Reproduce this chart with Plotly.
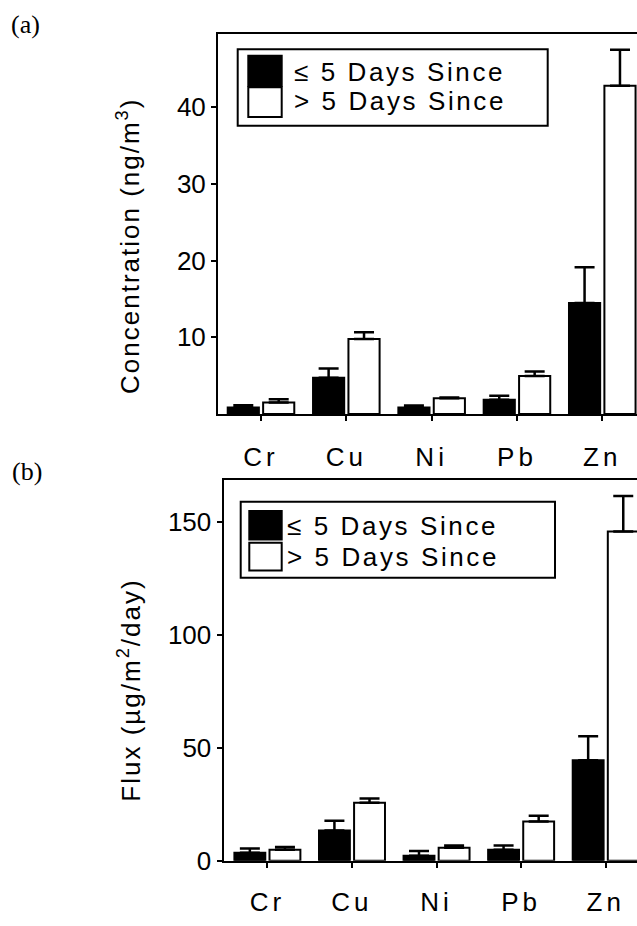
import plotly.graph_objects as go

# ---------------- data ----------------
categories = ["Cr", "Cu", "Ni", "Pb", "Zn"]
series_names = ["≤ 5 Days Since", "> 5 Days Since"]

# (a) concentration, ng/m3
conc_recent = [0.84, 4.71, 0.84, 1.83, 14.48]
conc_recent_err = [0.30, 1.20, 0.26, 0.52, 4.64]
conc_older = [1.48, 9.78, 2.04, 4.93, 42.81]
conc_older_err = [0.43, 0.87, 0.10, 0.60, 4.70]

# (b) flux, ug/m2/day
flux_recent = [3.6, 13.4, 2.3, 4.9, 44.5]
flux_recent_err = [1.8, 4.3, 2.0, 1.9, 10.6]
flux_older = [4.9, 25.7, 5.8, 17.4, 145.7]
flux_older_err = [1.2, 1.9, 1.0, 2.5, 15.7]

conc_ticks = [10, 20, 30, 40]
flux_ticks = [0, 50, 100, 150]

panel_labels = ["(a)", "(b)"]
y_titles = ["Concentration (ng/m<sup>3</sup>)", "Flux (µg/m<sup>2</sup>/day)"]

# ---------------- layout helpers ----------------
W, H = 637, 926
SANS = "Liberation Sans, Arial, Helvetica, sans-serif"
SERIF = "Liberation Serif, Times New Roman, serif"


def px(x):
    return x / W


def py(y):
    return 1 - y / H


def spaced(text, sp):
    return f'<span style="letter-spacing:{sp}px">{text}</span>'


fig = go.Figure()

fills = ["black", "white"]
panels = [
    ("x", "y", [conc_recent, conc_older], [conc_recent_err, conc_older_err]),
    ("x2", "y2", [flux_recent, flux_older], [flux_recent_err, flux_older_err]),
]
for xa, ya, vals, errs in panels:
    for name, v, e, fc in zip(series_names, vals, errs, fills):
        fig.add_trace(go.Bar(
            x=categories, y=v, name=name, xaxis=xa, yaxis=ya,
            marker=dict(color=fc, line=dict(color="black", width=2)),
            error_y=dict(type="data", array=e, arrayminus=[0] * len(e),
                         symmetric=False, color="black", thickness=2.5, width=10),
            showlegend=False,
        ))

xcommon = dict(
    type="category", showline=True, linewidth=2, linecolor="black", mirror=True,
    ticks="outside", ticklen=5, tickwidth=2, tickcolor="black",
    tickvals=categories, ticktext=[spaced(c, 4) for c in categories],
    tickfont=dict(family=SANS, size=26, color="black"),
    showgrid=False, zeroline=False, fixedrange=True,
)
ycommon = dict(
    showline=True, linewidth=2, linecolor="black",
    ticks="outside", ticklen=5, tickwidth=2, tickcolor="black",
    tickfont=dict(family=SANS, size=26, color="black"),
    showgrid=False, zeroline=False, fixedrange=True,
)

fig.update_layout(
    width=W, height=H,
    margin=dict(l=0, r=0, t=0, b=0),
    paper_bgcolor="white", plot_bgcolor="white",
    barmode="group", bargap=0.17, bargroupgap=0.12,
    xaxis=dict(xcommon, domain=[px(218), 1], range=[-0.504, 4.407], anchor="y",
               ticklabelstandoff=14),
    yaxis=dict(ycommon, domain=[py(420.7), py(35)], range=[0, 49.5], anchor="x",
               tickvals=conc_ticks),
    xaxis2=dict(xcommon, domain=[px(223.5), 1], range=[-0.519, 4.37], anchor="y2",
                ticklabelstandoff=12),
    yaxis2=dict(ycommon, domain=[py(875), py(487.5)], range=[0, 168.7], anchor="x2",
                tickvals=flux_ticks),
)

# ---------------- legends (one per panel) ----------------
legend_boxes = [
    dict(box=(237.7, 50, 547.7, 127.7), sw_x=(248.3, 281.7),
         rows=[(56.7, 87.3), (88.7, 119)], text_x=291.7, text_y=[73, 103]),
    dict(box=(240.7, 510, 555, 587.3), sw_x=(249.3, 281.7),
         rows=[(519.3, 548.3), (551.7, 580)], text_x=284.5, text_y=[535, 566]),
]
shapes = []
annotations = []
for lg in legend_boxes:
    x0, y0, x1, y1 = lg["box"]
    shapes.append(dict(type="rect", xref="paper", yref="paper", layer="above",
                       x0=px(x0), x1=px(x1), y0=py(y1), y1=py(y0),
                       line=dict(color="black", width=2), fillcolor="white"))
    for (ry0, ry1), fc, name, ty in zip(lg["rows"], fills, series_names, lg["text_y"]):
        shapes.append(dict(type="rect", xref="paper", yref="paper", layer="above",
                           x0=px(lg["sw_x"][0]), x1=px(lg["sw_x"][1]),
                           y0=py(ry1), y1=py(ry0),
                           line=dict(color="black", width=2), fillcolor=fc))
        annotations.append(dict(xref="paper", yref="paper", x=px(lg["text_x"]), y=py(ty),
                                xanchor="left", yanchor="middle", showarrow=False,
                                text=spaced(name, 2.6),
                                font=dict(family=SANS, size=26, color="black")))

# axis titles
for title, (tx, ty) in zip(y_titles, [(129, 250), (130, 702)]):
    annotations.append(dict(xref="paper", yref="paper", x=px(tx), y=py(ty),
                            xanchor="center", yanchor="middle", showarrow=False,
                            textangle=-90, text=spaced(title, 2),
                            font=dict(family=SANS, size=26, color="black")))

# panel labels
for lab, (lx, ly) in zip(panel_labels, [(26, 25), (26.5, 479)]):
    annotations.append(dict(xref="paper", yref="paper", x=px(lx), y=py(ly),
                            xanchor="center", yanchor="middle", showarrow=False,
                            text=lab, font=dict(family=SERIF, size=26, color="black")))

fig.update_layout(shapes=shapes, annotations=annotations)

fig.write_html(
    "out.html",
    config=dict(displayModeBar=False),
    post_script="document.body.style.margin='0';document.body.style.overflow='hidden';",
)
